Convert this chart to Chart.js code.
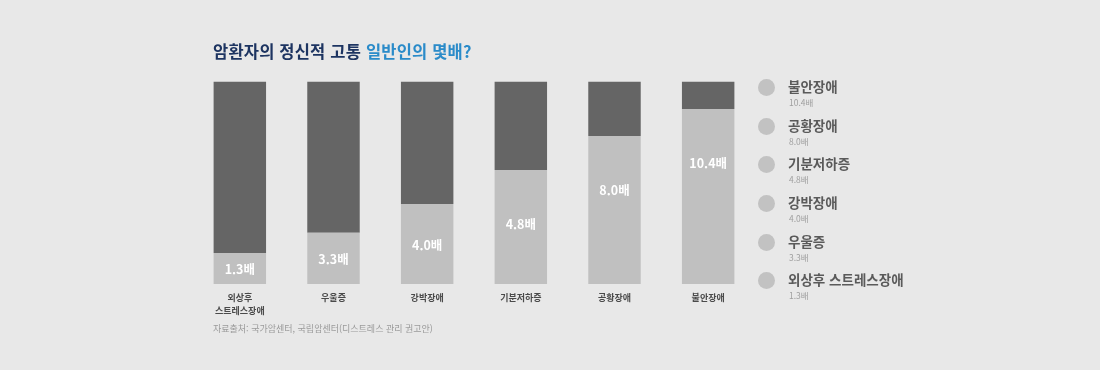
<!DOCTYPE html>
<html lang="ko">
<head>
<meta charset="utf-8">
<title>암환자의 정신적 고통</title>
<script src="https://cdn.jsdelivr.net/npm/chart.js@4.4.1/dist/chart.umd.min.js"></script>
<style>
  html, body { margin: 0; padding: 0; background: #e8e8e8; }
  body { font-family: "Noto Sans CJK KR", "Noto Sans", sans-serif; }
  #wrap { position: relative; width: 1100px; height: 370px; overflow: hidden; }
  #chart { position: absolute; left: 0; top: 0; }
  #title { position: absolute; left: 213px; top: 39px; font-size: 16.5px; font-weight: bold; color: #1d3461; white-space: nowrap; letter-spacing: 0.2px; }
  #title span { color: #2a8bc9; }
  #source { position: absolute; left: 213px; top: 322px; font-size: 9px; color: #9a9a9a; white-space: nowrap; }
  #legend { position: absolute; left: 758px; top: 78px; }
  .item { position: relative; height: 38.7px; }
  .dot { position: absolute; left: 0; top: 1px; width: 17px; height: 17px; border-radius: 50%; background: #c2c2c2; }
  .name { position: absolute; left: 30px; top: -2px; font-size: 13.5px; font-weight: bold; color: #5a5a5a; white-space: nowrap; }
  .val { position: absolute; left: 31px; top: 18px; font-size: 8.5px; color: #a0a0a0; white-space: nowrap; }
</style>
</head>
<body>
<div id="wrap">
  <canvas id="chart" width="1100" height="370"></canvas>
  <div id="title">암환자의 정신적 고통 <span>일반인의 몇배?</span></div>
  <div id="legend"></div>
  <div id="source">자료출처: 국가암센터, 국립암센터(디스트레스 관리 권고안)</div>
</div>
<script>
// categories (bottom labels), left to right
const categories = [['외상후', '스트레스장애'], '우울증', '강박장애', '기분저하증', '공황장애', '불안장애'];
// ratio vs. general population (the printed values)
const ratios = [1.3, 3.3, 4.0, 4.8, 8.0, 10.4];
// drawn heights of the light part, as % of the full column
const lightHeights = [15.3, 25.3, 39.5, 56.3, 73.1, 86.4];
// drawn heights of the dark remainder
const darkHeights = [84.7, 74.7, 60.5, 43.7, 26.9, 13.6];

const FONT = '"Noto Sans CJK KR", "Noto Sans", sans-serif';

// legend on the right (reverse order)
const legendEl = document.getElementById('legend');
for (let i = categories.length - 1; i >= 0; i--) {
    const name = Array.isArray(categories[i]) ? categories[i].join(' ') : categories[i];
    const item = document.createElement('div');
    item.className = 'item';
    item.innerHTML = `<div class="dot"></div><div class="name">${name}</div><div class="val">${ratios[i].toFixed(1)}배</div>`;
    legendEl.appendChild(item);
}

const labelsPlugin = {
    id: 'barLabels',
    afterDatasetsDraw(chart) {
        const ctx = chart.ctx;
        const meta = chart.getDatasetMeta(0);
        ctx.save();
        ctx.textAlign = 'center';
        ctx.textBaseline = 'middle';
        meta.data.forEach((bar, i) => {
            const top = bar.y, bottom = bar.base;
            const y = Math.min((top + bottom) / 2 + 1, top + 54);
            ctx.fillStyle = '#ffffff';
            ctx.font = 'bold 12.5px ' + FONT;
            ctx.fillText(ratios[i].toFixed(1) + '배', bar.x, y);

            // category label under the column
            ctx.fillStyle = '#4a4a4a';
            ctx.font = 'bold 9px ' + FONT;
            const lines = Array.isArray(categories[i]) ? categories[i] : [categories[i]];
            lines.forEach((line, j) => {
                ctx.fillText(line, bar.x, chart.chartArea.bottom + 14 + j * 13);
            });
        });
        ctx.restore();
    }
};

new Chart(document.getElementById('chart'), {
    type: 'bar',
    data: {
        labels: categories.map(c => Array.isArray(c) ? c.join(' ') : c),
        datasets: [
            {
                label: '일반인 대비',
                data: lightHeights,
                backgroundColor: '#c0c0c0',
                borderWidth: 0,
                barPercentage: 0.56,
                categoryPercentage: 1
            },
            {
                label: '나머지',
                data: darkHeights,
                backgroundColor: '#656565',
                borderWidth: 0,
                barPercentage: 0.56,
                categoryPercentage: 1
            }
        ]
    },
    options: {
        responsive: false,
        animation: false,
        layout: { padding: { left: 193, right: 345, top: 81.5, bottom: 86 } },
        plugins: {
            legend: { display: false },
            tooltip: { enabled: false }
        },
        scales: {
            x: { stacked: true, display: false },
            y: { stacked: true, display: false, min: 0, max: 100 }
        }
    },
    plugins: [labelsPlugin]
});
</script>
</body>
</html>
